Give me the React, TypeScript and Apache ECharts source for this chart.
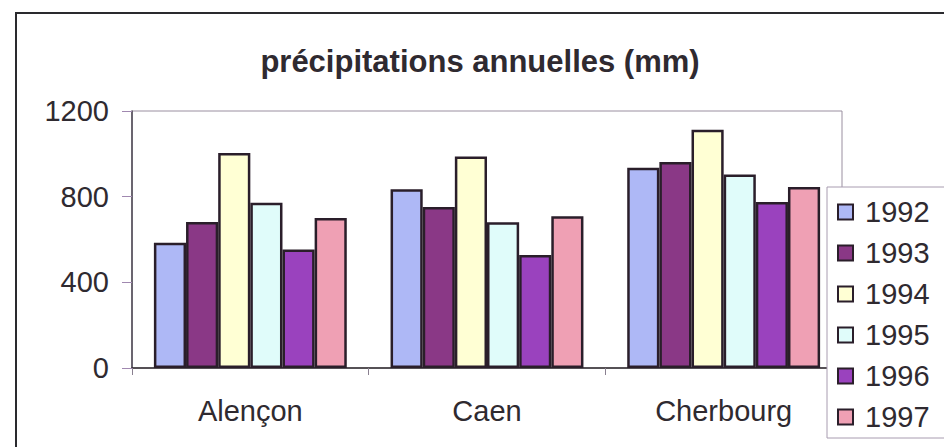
import React, { useEffect, useRef } from "react";
import * as echarts from "echarts";

// Annual rainfall (mm) for three Normandy stations, 1992–1997
const cities = ["Alençon", "Caen", "Cherbourg"];
const years = ["1992", "1993", "1994", "1995", "1996", "1997"];
const rain1992 = [585, 835, 935];
const rain1993 = [682, 752, 962];
const rain1994 = [1004, 988, 1112];
const rain1995 = [772, 680, 904];
const rain1996 = [553, 528, 775];
const rain1997 = [700, 708, 845];
const yTicks = [0, 400, 800, 1200];

const seriesValues = [rain1992, rain1993, rain1994, rain1995, rain1996, rain1997];
const barColors = ["#AEB8F6", "#8A3886", "#FFFFD4", "#E0FCFA", "#9A42BE", "#EFA0B4"];

const FONT = "'Liberation Sans', Arial, Helvetica, sans-serif";
const TEXT = "#2f2a30";

export default function App() {
  const ref = useRef<HTMLDivElement>(null);

  useEffect(() => {
    if (!ref.current) return;
    const chart = echarts.init(ref.current, undefined, { renderer: "svg" });
    chart.setOption({
      animation: false,
      backgroundColor: "#ffffff",
      textStyle: { fontFamily: FONT },
      title: {
        text: "précipitations annuelles (mm)",
        left: 475,
        textAlign: "center",
        top: 41,
        textStyle: { fontFamily: FONT, fontSize: 31, fontWeight: "bold", color: TEXT },
      },
      graphic: [
        {
          type: "rect",
          shape: { x: 16, y: 13, width: 1000, height: 500 },
          style: { fill: "none", stroke: "#2a2a2e", lineWidth: 2 },
          silent: true,
          z: 100,
        },
      ],
      grid: {
        left: 132,
        top: 111,
        right: 102,
        bottom: 79,
        show: true,
        borderColor: "#9a8fa0",
        borderWidth: 1,
        backgroundColor: "#ffffff",
        containLabel: false,
      },
      legend: {
        data: years,
        orient: "vertical",
        left: 827,
        top: 187,
        padding: [10, 40, 6, 10],
        itemGap: 11,
        itemWidth: 15,
        itemHeight: 15,
        icon: "rect",
        borderColor: "#a89cb0",
        borderWidth: 1,
        backgroundColor: "#ffffff",
        textStyle: {
          fontFamily: FONT,
          fontSize: 29,
          color: TEXT,
          lineHeight: 30,
          padding: [0, 0, 0, 7],
        },
        z: 20,
      },
      xAxis: {
        type: "category",
        data: cities,
        axisLine: { show: true, lineStyle: { color: "#2e2a2e", width: 1.5 } },
        axisTick: { show: true, length: 7, alignWithLabel: false, lineStyle: { color: "#8a8090" } },
        axisLabel: { fontFamily: FONT, fontSize: 29, color: TEXT, margin: 28 },
        splitLine: { show: false },
      },
      yAxis: {
        type: "value",
        min: 0,
        max: 1200,
        interval: 400,
        axisLine: { show: true, lineStyle: { color: "#4a4550", width: 1.5 } },
        axisTick: { show: true, length: 10, lineStyle: { color: "#a088b0" } },
        axisLabel: {
          fontFamily: FONT,
          fontSize: 29,
          color: TEXT,
          margin: 23,
          formatter: (v: number) => (yTicks.includes(v) ? String(v) : ""),
        },
        splitLine: { show: false },
      },
      series: years.map((y, i) => ({
        name: y,
        type: "bar",
        data: seriesValues[i],
        barGap: "0%",
        barCategoryGap: "18.5%",
        itemStyle: { color: barColors[i], borderColor: "#2a1e2a", borderWidth: 2.5 },
      })),
    });
    return () => chart.dispose();
  }, []);

  return (
    <div
      ref={ref}
      style={{ position: "fixed", left: 0, top: 0, width: 944, height: 447 }}
    />
  );
}
